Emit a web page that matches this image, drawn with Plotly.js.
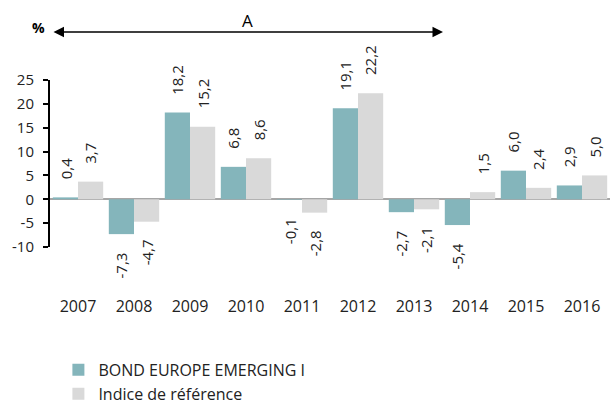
<!DOCTYPE html>
<html>
<head>
<meta charset="utf-8">
<script src="https://cdn.plot.ly/plotly-3.0.1.min.js"></script>
<style>html,body{margin:0;padding:0;background:#fff;}#chart{width:610px;height:403px;}</style>
</head>
<body>
<div id="chart"></div>
<script>
var years = ['2007','2008','2009','2010','2011','2012','2013','2014','2015','2016'];
var fundValues = [0.4, -7.3, 18.2, 6.8, -0.1, 19.1, -2.7, -5.4, 6.0, 2.9];
var indexValues = [3.7, -4.7, 15.2, 8.6, -2.8, 22.2, -2.1, 1.5, 2.4, 5.0];
var seriesNames = ['BOND EUROPE EMERGING I', 'Indice de référence'];
var yTicks = [-10, -5, 0, 5, 10, 15, 20, 25];

var FONT = 'Open Sans, sans-serif';
var colors = ['#84b5bb', '#d9d9d9'];
var bargap = 0.1;
var catPx = 560 / years.length;
var barPx = catPx * (1 - bargap) / 2;
var xIdx = years.map(function(_, i){ return i; });

function fmt(v){ return v.toFixed(1).replace('.', ','); }

var traces = [fundValues, indexValues].map(function(vals, i){
  return {
    type: 'bar', x: xIdx, y: vals, name: seriesNames[i],
    marker: {color: colors[i]}, hoverinfo: 'none'
  };
});

var annotations = [];
[fundValues, indexValues].forEach(function(vals, i){
  vals.forEach(function(v, j){
    var pos = v >= 0;
    annotations.push({
      x: xIdx[j], y: v, xref: 'x', yref: 'y', text: fmt(v),
      showarrow: false, textangle: -90,
      xshift: (i === 0 ? -1 : 1) * barPx / 2,
      yshift: pos ? 16 : -16,
      yanchor: pos ? 'bottom' : 'top', xanchor: 'center',
      font: {family: FONT, size: 15, color: '#222'}
    });
  });
});

annotations.push({
  xref: 'paper', yref: 'y domain', x: -0.0214, y: 1.317, text: '<b>%</b>',
  xanchor: 'center', yanchor: 'middle',
  showarrow: false, font: {family: FONT, size: 14, color: '#000'}
});
annotations.push({
  xref: 'paper', yref: 'y domain', x: 0.352, y: 1.359, text: 'A',
  xanchor: 'center', yanchor: 'middle',
  showarrow: false, font: {family: FONT, size: 17, color: '#000'}
});
annotations.push({
  xref: 'paper', yref: 'y domain', x: 0.7018, y: 1.287, text: '',
  showarrow: true, axref: 'pixel', ayref: 'pixel', ax: -391, ay: 0,
  arrowside: 'end+start', arrowhead: 2, arrowsize: 1.4, arrowwidth: 1.5, arrowcolor: '#000'
});

var layout = {
  width: 610, height: 403,
  margin: {l: 50, r: 0, t: 80, b: 0, autoexpand: false},
  paper_bgcolor: '#fff', plot_bgcolor: '#fff',
  barmode: 'group', bargap: bargap, bargroupgap: 0,
  showlegend: true,
  legend: {
    x: 0.015, y: 0.155, xanchor: 'left', yanchor: 'top',
    font: {family: FONT, size: 16, color: '#222'},
    traceorder: 'normal', bgcolor: 'rgba(0,0,0,0)'
  },
  xaxis: {
    type: 'linear', range: [-0.5, years.length - 0.5],
    tickvals: xIdx, ticktext: years,
    showline: false, ticks: '', showgrid: false, zeroline: false,
    tickfont: {family: FONT, size: 16, color: '#222'},
    ticklabelstandoff: 48, fixedrange: true, automargin: false
  },
  yaxis: {
    domain: [156 / 323, 1],
    range: [-10, 25], tickvals: yTicks, ticktext: yTicks.map(String),
    showline: true, linecolor: '#000', linewidth: 2,
    ticks: 'outside', ticklen: 5, tickwidth: 2, tickcolor: '#000',
    ticklabelstandoff: 6, automargin: false,
    showgrid: false, zeroline: true, zerolinecolor: '#a6a6a6', zerolinewidth: 2,
    tickfont: {family: FONT, size: 15, color: '#222'}, fixedrange: true
  },
  annotations: annotations
};

Plotly.newPlot('chart', traces, layout, {displayModeBar: false, staticPlot: true});
</script>
</body>
</html>
